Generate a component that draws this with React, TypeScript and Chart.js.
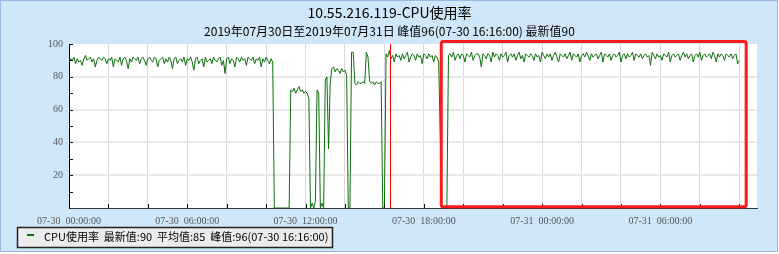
import { useEffect, useRef } from 'react';
import { Chart, registerables } from 'chart.js';

Chart.register(...registerables);

// ---------- text ----------
const TITLE = '10.55.216.119-CPU使用率';
const SUBTITLE = '2019年07月30日至2019年07月31日 峰值96(07-30 16:16:00) 最新值90';
const SERIES_NAME = 'CPU使用率';
const LEGEND_TEXT = 'CPU使用率  最新值:90  平均值:85  峰值:96(07-30 16:16:00)';
const DAY_LABELS = ['07-30', '07-31'];

// ---------- axes (minutes since 07-30 00:00) ----------
const SAMPLE_STEP_MIN = 5;
const X_MAX_MIN = 2094;
const X_GRID_STEP = 120;
const X_LABEL_STEP = 360;
const Y_MAX = 100;
const Y_STEP = 10;
const Y_LABEL_STEP = 20;

// ---------- marks from the reference ----------
const PEAK_MINUTE = 976; // 16:16
const HIGHLIGHT_X = [1133, 2061];
const HIGHLIGHT_Y = [0.8, 101.6];

// ---------- CPU values, consecutive 5-minute samples from 00:00 ----------
// 00:00 - 10:20
const morningPlateau = [
  89, 91, 90, 92, 88, 91, 89, 90, 87, 91,
  93, 90, 91, 92, 89, 91, 86, 90, 92, 91,
  90, 92, 91, 88, 91, 90, 92, 86, 91, 90,
  89, 92, 87, 91, 92, 90, 85, 91, 89, 92,
  91, 90, 92, 88, 91, 92, 90, 87, 91, 92,
  90, 89, 92, 91, 86, 90, 91, 92, 88, 91,
  89, 92, 90, 85, 91, 92, 88, 90, 91, 89,
  92, 87, 91, 90, 92, 89, 84, 91, 92, 88,
  90, 91, 86, 92, 89, 90, 91, 88, 92, 90,
  89, 91, 92, 87, 90, 82, 91, 92, 88, 91,
  90, 86, 92, 91, 89, 92, 90, 91, 87, 92,
  91, 90, 92, 88, 91, 90, 92, 86, 91, 89,
  92, 90, 88, 91, 89,
];
// 10:25 - 11:10
const outageGapA = [0, 0, 0, 0, 0, 0, 0, 0, 0, 0];
// 11:15 - 15:50
const unstableMidday = [
  72, 71, 73, 70, 72, 74, 71, 72, 70, 71,
  70, 67, 0, 3, 0, 4, 72, 70, 0, 3,
  0, 78, 80, 36, 76, 85, 86, 83, 85, 84,
  82, 85, 83, 84, 81, 0, 0, 95, 95, 76,
  75, 77, 76, 76, 77, 76, 95, 92, 77, 76,
  77, 75, 77, 76, 76, 77,
];
// 15:55 - 16:00
const outageGapB = [0, 0];
// 16:05 - 18:45
const eveningPlateau = [
  94, 92, 96, 91, 93, 89, 94, 92, 93, 90,
  94, 91, 93, 95, 89, 92, 94, 93, 90, 94,
  92, 93, 88, 94, 93, 91, 94, 92, 93, 89,
  93, 92, 89,
];
// 18:50 - 19:10
const outageGapC = [45, 0, 0, 0, 0];
// 19:15 - 07-31 10:00
const overnightPlateau = [
  93, 94, 92, 95, 90, 93, 94, 91, 94, 93,
  89, 94, 93, 92, 95, 90, 93, 94, 94, 92,
  86, 94, 93, 91, 94, 93, 89, 95, 92, 94,
  93, 90, 94, 92, 93, 95, 89, 93, 94, 92,
  94, 90, 93, 95, 91, 93, 89, 94, 93, 92,
  94, 93, 90, 94, 92, 93, 89, 95, 93, 91,
  94, 92, 94, 90, 93, 95, 92, 89, 94, 93,
  92, 94, 91, 93, 95, 90, 94, 93, 92, 94,
  89, 93, 94, 92, 95, 93, 90, 94, 92, 93,
  94, 91, 93, 95, 89, 94, 93, 92, 94, 90,
  93, 94, 92, 93, 95, 89, 93, 94, 91, 94,
  92, 93, 95, 90, 94, 93, 92, 94, 91, 93,
  94, 92, 93, 87, 95, 93, 91, 94, 92, 93,
  90, 94, 93, 92, 95, 89, 93, 94, 92, 93,
  94, 90, 93, 95, 92, 94, 91, 93, 94, 89,
  93, 94, 92, 95, 90, 93, 94, 92, 93, 94,
  91, 95, 93, 89, 94, 92, 94, 93, 90, 94,
  93, 92, 94, 91, 93, 94, 88, 90,
];

const cpuValues = [
  ...morningPlateau,
  ...outageGapA,
  ...unstableMidday,
  ...outageGapB,
  ...eveningPlateau,
  ...outageGapC,
  ...overnightPlateau,
];

const LINE_COLOR = '#0b6f0b';
const TICK_FONT = '"Liberation Serif", serif';
const CJK_FONT = '"Noto Sans CJK SC", sans-serif';

const chromePlugin = {
  id: 'chrome',
  beforeDraw(chart: any) {
    const { ctx, chartArea: a } = chart;
    ctx.save();
    ctx.fillStyle = '#ffffff';
    ctx.fillRect(a.left, a.top, a.right - a.left, a.bottom - a.top);
    ctx.restore();
  },
  afterDatasetsDraw(chart: any) {
    const { ctx, chartArea: a, scales } = chart;
    const xs = scales.x;
    const ys = scales.y;
    ctx.save();
    ctx.strokeStyle = '#111';
    ctx.lineWidth = 1;
    ctx.beginPath();
    for (let m = X_GRID_STEP; m <= X_MAX_MIN; m += X_GRID_STEP) {
      const px = Math.round(xs.getPixelForValue(m)) + 0.5;
      ctx.moveTo(px, a.bottom - 4);
      ctx.lineTo(px, a.bottom);
    }
    for (let v = Y_STEP; v <= Y_MAX; v += Y_STEP) {
      const py = Math.round(ys.getPixelForValue(v)) + 0.5;
      ctx.moveTo(a.left, py);
      ctx.lineTo(a.left + 4, py);
    }
    ctx.stroke();
    ctx.restore();
  },
  afterDraw(chart: any) {
    const { ctx, chartArea: a, scales } = chart;
    const xs = scales.x;
    const ys = scales.y;
    ctx.save();
    // peak marker
    const peakX = Math.round(xs.getPixelForValue(PEAK_MINUTE)) + 0.5;
    ctx.strokeStyle = '#ff0000';
    ctx.lineWidth = 1;
    ctx.beginPath();
    ctx.moveTo(peakX, a.top);
    ctx.lineTo(peakX, a.bottom);
    ctx.stroke();
    // highlight rectangle
    const x1 = xs.getPixelForValue(HIGHLIGHT_X[0]);
    const x2 = xs.getPixelForValue(HIGHLIGHT_X[1]);
    const y1 = ys.getPixelForValue(HIGHLIGHT_Y[1]);
    const y2 = ys.getPixelForValue(HIGHLIGHT_Y[0]);
    ctx.strokeStyle = '#ff1a1a';
    ctx.lineWidth = 3;
    ctx.beginPath();
    ctx.roundRect(x1, y1, x2 - x1, y2 - y1, 2);
    ctx.stroke();
    // legend box
    ctx.fillStyle = '#ececec';
    ctx.fillRect(17, 227, 316, 21);
    ctx.strokeStyle = '#222';
    ctx.lineWidth = 1.5;
    ctx.strokeRect(17.5, 227.5, 315, 20);
    ctx.fillStyle = LINE_COLOR;
    ctx.fillRect(27, 234, 7, 2);
    ctx.fillStyle = '#000';
    ctx.font = `11px ${CJK_FONT}`;
    ctx.textBaseline = 'middle';
    ctx.textAlign = 'left';
    ctx.fillText(LEGEND_TEXT, 44, 237);
    ctx.restore();
  },
};

export default function App() {
  const canvasRef = useRef<HTMLCanvasElement | null>(null);

  useEffect(() => {
    if (!canvasRef.current) return;
    const points = cpuValues.map((v, i) => ({ x: i * SAMPLE_STEP_MIN, y: v }));
    const chart = new Chart(canvasRef.current, {
      type: 'line',
      data: {
        datasets: [
          {
            label: SERIES_NAME,
            data: points,
            borderColor: LINE_COLOR,
            backgroundColor: LINE_COLOR,
            borderWidth: 1,
            pointRadius: 0,
            tension: 0,
            fill: false,
          },
        ],
      },
      options: {
        animation: false,
        responsive: false,
        devicePixelRatio: 1,
        layout: { padding: 0 },
        plugins: {
          legend: { display: false },
          tooltip: { enabled: false },
          title: {
            display: true,
            text: TITLE,
            color: '#000',
            font: { family: CJK_FONT, size: 14, weight: 'normal' },
            padding: { top: 4, bottom: 0 },
          },
          subtitle: {
            display: true,
            text: SUBTITLE,
            color: '#000',
            font: { family: CJK_FONT, size: 12, weight: 'normal' },
            padding: { top: 3, bottom: 5.8 },
          },
        },
        scales: {
          x: {
            type: 'linear',
            min: 0,
            max: X_MAX_MIN,
            afterFit: (s: any) => {
              s.height = 46;
            },
            grid: { color: '#d9d9d9', lineWidth: 1, drawTicks: false },
            border: { display: true, color: '#333', width: 1 },
            ticks: {
              stepSize: X_GRID_STEP,
              includeBounds: false,
              autoSkip: false,
              maxRotation: 0,
              padding: 7,
              color: '#555',
              font: { family: TICK_FONT, size: 10 },
              callback: (v: any) => {
                const m = Number(v);
                if (m % X_LABEL_STEP !== 0) return '';
                const day = DAY_LABELS[Math.floor(m / 1440)];
                const hh = String(Math.floor((m % 1440) / 60)).padStart(2, '0');
                return `${day}  ${hh}:00:00`;
              },
            },
          },
          y: {
            min: 0,
            max: Y_MAX,
            afterFit: (s: any) => {
              s.width = 69;
            },
            grid: {
              drawTicks: false,
              lineWidth: 2,
              color: (c: any) => {
                const v = c.tick ? c.tick.value : 0;
                return v > 0 && v < Y_MAX && v % Y_LABEL_STEP === 0 ? '#e8e8e8' : 'rgba(0,0,0,0)';
              },
            },
            border: { display: true, color: '#000', width: 1 },
            ticks: {
              stepSize: Y_STEP,
              padding: 6,
              color: '#555',
              font: { family: TICK_FONT, size: 10 },
              callback: (v: any) => {
                const n = Number(v);
                return n > 0 && n % Y_LABEL_STEP === 0 ? String(n) : '';
              },
            },
          },
          yRight: {
            position: 'right',
            display: true,
            afterFit: (s: any) => {
              s.width = 22;
            },
            grid: { display: false, drawTicks: false },
            border: { display: false },
            ticks: { display: false },
          },
        },
      },
      plugins: [chromePlugin],
    } as any);
    return () => chart.destroy();
  }, []);

  return (
    <div style={{ position: 'fixed', left: 0, top: 0, width: 779, height: 254 }}>
      <div
        style={{
          position: 'absolute',
          left: 0,
          top: 0,
          width: 776,
          height: 250,
          background: '#d0e6f9',
          border: '1px solid #97b9e4',
        }}
      />
      <canvas
        ref={canvasRef}
        width={779}
        height={254}
        style={{ position: 'absolute', left: 0, top: 0, width: 779, height: 254 }}
      />
    </div>
  );
}
